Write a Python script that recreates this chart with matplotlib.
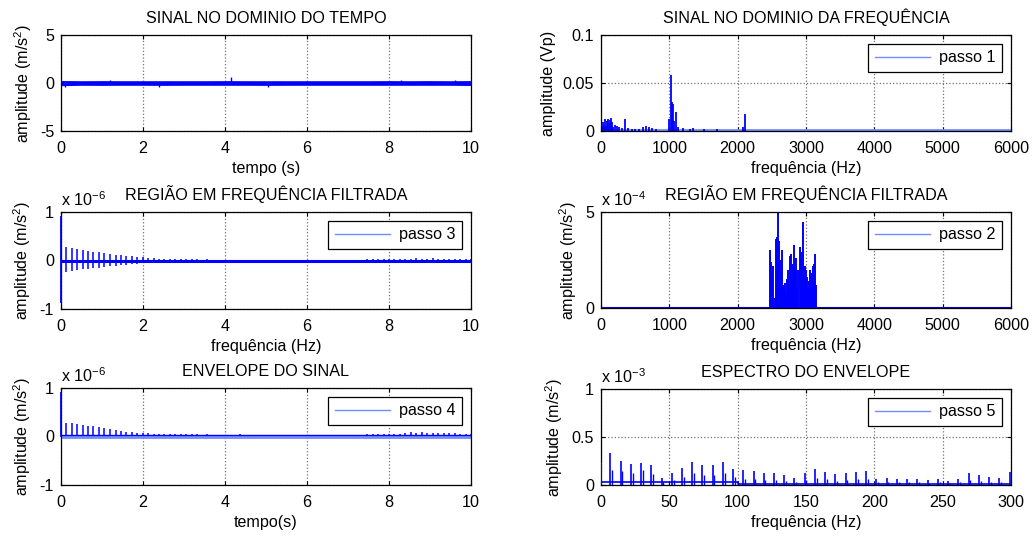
import matplotlib
matplotlib.use("Agg")
import matplotlib.pyplot as plt

plt.rcParams['font.family'] = ['Liberation Sans', 'DejaVu Sans']
plt.rcParams['font.size'] = 11.5
plt.rcParams['mathtext.fontset'] = 'custom'
plt.rcParams['mathtext.rm'] = 'Liberation Sans'
plt.rcParams['mathtext.it'] = 'Liberation Sans'
plt.rcParams['mathtext.bf'] = 'Liberation Sans'

BLUE = (0, 0, 1)
LIGHT = (0.45, 0.55, 1.0)

# ---------------- data ----------------
# 1) time signal: band envelope (m/s^2)
sinal_t = [0, 0.5, 1, 1.5, 2, 2.5, 3, 3.5, 4, 4.5, 5, 5.5, 6, 6.5, 7, 7.5, 8, 8.5, 9, 9.5, 10]
sinal_sup = [0.26, 0.24, 0.25, 0.24, 0.24, 0.24, 0.24, 0.24, 0.25, 0.24, 0.24, 0.24, 0.24, 0.24, 0.24, 0.24, 0.25, 0.24, 0.25, 0.24, 0.25]
sinal_inf = [-0.28, -0.24, -0.25, -0.24, -0.24, -0.25, -0.24, -0.24, -0.24, -0.24, -0.25, -0.24, -0.24, -0.24, -0.24, -0.24, -0.24, -0.24, -0.24, -0.24, -0.26]
sinal_pico_t = [0.1, 1.2, 2.4, 4.15, 5.05, 8.3, 9.6]
sinal_pico_v = [-0.4, 0.35, -0.38, 0.6, -0.45, 0.3, 0.3]

# 2) spectrum (Vp)
esp_f = [10, 25, 40, 55, 70, 85, 100, 115, 130, 145, 160, 180, 200, 230, 260, 300, 350, 400, 450, 500,
         560, 620, 660, 700, 740, 800, 1000, 1030, 1045, 1060, 1075, 1100, 1130, 1200, 1300, 1350,
         1500, 1700, 2080, 2110]
esp_a = [0.004, 0.009, 0.006, 0.012, 0.005, 0.010, 0.013, 0.008, 0.011, 0.014, 0.009, 0.004, 0.006, 0.005,
         0.004, 0.003, 0.013, 0.003, 0.002, 0.002, 0.002, 0.004, 0.005, 0.004, 0.003, 0.002, 0.012, 0.058,
         0.030, 0.028, 0.010, 0.020, 0.004, 0.003, 0.002, 0.003, 0.002, 0.002, 0.004, 0.018]
esp_base_f = [0, 6000]
esp_base_a = [0.001, 0.001]

# 3) filtered region, time (x 1e-6 m/s^2)
p3_t = [0.13, 0.26, 0.39, 0.53, 0.66, 0.79, 0.93, 1.06, 1.19, 1.33, 1.46, 1.59, 1.73, 1.86, 1.99, 2.12,
        2.26, 2.39, 2.52, 2.66, 2.79, 2.92, 3.06, 3.19, 3.32, 3.55, 4.37, 7.47, 7.6, 7.73, 7.87, 8.0, 8.13,
        8.27, 8.4, 8.53, 8.67, 8.8, 8.93, 9.07, 9.2, 9.33, 9.47, 9.6, 9.73, 9.87, 10.0]
p3_sup = [0.28, 0.26, 0.23, 0.21, 0.20, 0.18, 0.17, 0.15, 0.13, 0.12, 0.11, 0.10, 0.09, 0.08, 0.07, 0.06,
          0.05, 0.04, 0.04, 0.035, 0.03, 0.03, 0.03, 0.03, 0.03, 0.03, 0.02, 0.03, 0.03, 0.035, 0.035, 0.04,
          0.035, 0.04, 0.04, 0.04, 0.045, 0.04, 0.04, 0.045, 0.04, 0.04, 0.035, 0.04, 0.035, 0.03, 0.03]
p3_inf = [-0.24, -0.22, -0.20, -0.18, -0.17, -0.16, -0.15, -0.13, -0.12, -0.11, -0.10, -0.09, -0.08, -0.07,
          -0.06, -0.05, -0.05, -0.04, -0.04, -0.035, -0.03, -0.03, -0.03, -0.03, -0.03, -0.03, -0.02, -0.03,
          -0.03, -0.035, -0.035, -0.04, -0.035, -0.04, -0.04, -0.04, -0.045, -0.04, -0.04, -0.045, -0.04,
          -0.04, -0.035, -0.04, -0.035, -0.03, -0.03]
p3_inicio = [-0.88, 0.92]

# 4) filtered region, frequency (x 1e-4 m/s^2)
p2_f = [2475, 2490, 2505, 2520, 2540, 2555, 2570, 2590, 2600, 2615, 2630, 2645, 2660, 2675, 2690, 2705,
        2720, 2740, 2755, 2770, 2785, 2800, 2815, 2830, 2845, 2860, 2875, 2890, 2905, 2920, 2935, 2950,
        2965, 2980, 2995, 3010, 3025, 3040, 3055, 3070, 3085, 3100, 3115, 3130, 3145]
p2_a = [3.0, 2.4, 1.5, 2.2, 0.5, 3.6, 3.7, 5.0, 3.5, 2.5, 1.8, 3.0, 1.2, 1.0, 1.3, 0.8, 1.5, 2.0, 1.2, 2.7,
        2.8, 1.5, 2.3, 3.3, 2.0, 2.6, 1.0, 2.0, 3.2, 2.5, 2.9, 4.5, 1.8, 2.2, 2.0, 1.6, 1.0, 1.4, 2.0, 1.1,
        1.8, 2.2, 2.3, 2.8, 1.2]

# 5) envelope (x 1e-6 m/s^2)
p4_t = p3_t
p4_a = [0.27, 0.27, 0.25, 0.23, 0.22, 0.21, 0.19, 0.17, 0.15, 0.14, 0.12, 0.10, 0.09, 0.08, 0.07, 0.065,
        0.06, 0.05, 0.05, 0.05, 0.05, 0.05, 0.05, 0.05, 0.05, 0.05, 0.05, 0.05, 0.05, 0.05, 0.05, 0.06,
        0.06, 0.06, 0.07, 0.09, 0.08, 0.09, 0.08, 0.08, 0.07, 0.07, 0.07, 0.07, 0.06, 0.06, 0.06]
p4_inicio = 0.92
p4_base = 0.035

# 6) envelope spectrum (x 1e-3 m/s^2)
p5_f = [6.6, 14.4, 22.0, 29.3, 36.6, 44.4, 52.0, 59.3, 66.6, 74.0, 81.7, 89.3, 96.6, 104.0, 111.7, 119.0,
        126.6, 134.0, 141.5, 149.0, 156.6, 164.0, 171.5, 179.0, 186.6, 194.0, 201.5, 209.0, 216.6, 224.0,
        231.5, 239.0, 246.6, 254.0, 261.5, 269.0, 276.6, 284.0, 291.5, 299.0]
p5_a = [0.33, 0.25, 0.22, 0.23, 0.21, 0.07, 0.12, 0.18, 0.24, 0.21, 0.21, 0.24, 0.17, 0.16, 0.15, 0.13,
        0.12, 0.10, 0.07, 0.13, 0.17, 0.14, 0.11, 0.13, 0.14, 0.15, 0.06, 0.07, 0.06, 0.06, 0.06, 0.05,
        0.06, 0.04, 0.06, 0.13, 0.10, 0.08, 0.07, 0.14]
p5_seg = [0.16, 0.15, 0.12, 0.16, 0.11, 0.03, 0.05, 0.08, 0.12, 0.10, 0.10, 0.12, 0.08, 0.06, 0.06, 0.05,
          0.05, 0.04, 0.03, 0.05, 0.07, 0.06, 0.04, 0.05, 0.06, 0.06, 0.03, 0.03, 0.03, 0.03, 0.03, 0.02,
          0.03, 0.02, 0.03, 0.05, 0.04, 0.03, 0.03, 0.05]
p5_inicio = 0.24
p5_base_f = [0, 100, 100, 300]
p5_base_a = [0.03, 0.03, 0.015, 0.015]

# ---------------- figure ----------------
fig = plt.figure(figsize=(10.35, 5.36), dpi=100)
W, H = 1035.0, 536.0
FS = 11.6


def make_ax(x0, y0, x1, y1):
    return fig.add_axes([x0 / W, 1 - y1 / H, (x1 - x0) / W, (y1 - y0) / H])


def style(ax, xlim, xticks, ylim, yticks, yticklabels, title, xlabel, ylabel):
    ax.set_xlim(*xlim)
    ax.set_xticks(xticks)
    ax.set_ylim(*ylim)
    ax.set_yticks(yticks)
    ax.set_yticklabels(yticklabels)
    ax.set_title(title, fontsize=FS, pad=8.5)
    ax.set_xlabel(xlabel, fontsize=FS, labelpad=3.5)
    ax.set_ylabel(ylabel, fontsize=FS, labelpad=4.5)
    ax.grid(True, color=(0.45, 0.45, 0.45), linestyle=':', linewidth=0.9)
    ax.tick_params(direction='in', top=True, right=True, length=3, labelsize=FS)
    ax.tick_params(axis='x', pad=7.5)
    ax.tick_params(axis='y', pad=5)
    for s in ax.spines.values():
        s.set_linewidth(0.9)
        s.set_color('black')
    ax.set_axisbelow(True)


def legend(ax, lab):
    h, = ax.plot([], [], color=LIGHT, lw=1, label=lab)
    lg = ax.legend(handles=[h], loc='upper right', fancybox=False, framealpha=1,
                   edgecolor='black', fontsize=FS, handlelength=3.4,
                   borderaxespad=0.55, borderpad=0.4, handletextpad=0.6)
    lg.get_frame().set_linewidth(0.9)


def expo(ax, txt):
    ax.text(0.0, 1.03, txt, transform=ax.transAxes, fontsize=FS, ha='left', va='bottom')


ylab = r'amplitude (m/s$^2$)'

# 1
ax1 = make_ax(61, 35, 471, 131)
ax1.fill_between(sinal_t, sinal_inf, sinal_sup, color=BLUE, lw=0)
ax1.vlines(sinal_pico_t, [0] * len(sinal_pico_t), sinal_pico_v, color=BLUE, lw=1)
style(ax1, (0, 10), [0, 2, 4, 6, 8, 10], (-5, 5), [-5, 0, 5], ['-5', '0', '5'],
      'SINAL NO DOMINIO DO TEMPO', 'tempo (s)', ylab)

# 2
ax2 = make_ax(601, 35, 1011, 131)
ax2.plot(esp_base_f, esp_base_a, color=LIGHT, lw=2)
ax2.vlines(esp_f, [0] * len(esp_f), esp_a, color=BLUE, lw=1.3)
style(ax2, (0, 6000), [0, 1000, 2000, 3000, 4000, 5000, 6000], (0, 0.1), [0, 0.05, 0.1],
      ['0', '0.05', '0.1'], 'SINAL NO DOMINIO DA FREQUÊNCIA', 'frequência (Hz)', 'amplitude (Vp)')
legend(ax2, 'passo 1')

# 3
ax3 = make_ax(61, 212, 471, 309)
ax3.plot([0, 10], [0, 0], color=BLUE, lw=2.2)
ax3.vlines(p3_t, p3_inf, p3_sup, color=BLUE, lw=1.1)
ax3.vlines([0.0], [p3_inicio[0]], [p3_inicio[1]], color=BLUE, lw=1.3, zorder=3, clip_on=False)
style(ax3, (0, 10), [0, 2, 4, 6, 8, 10], (-1, 1), [-1, 0, 1], ['-1', '0', '1'],
      'REGIÃO EM FREQUÊNCIA FILTRADA', 'frequência (Hz)', ylab)
legend(ax3, 'passo 3')
expo(ax3, r'x 10$^{-6}$')

# 4
ax4 = make_ax(601, 212, 1011, 308)
ax4.plot([0, 6000], [0, 0], color=BLUE, lw=1.5)
ax4.vlines(p2_f, [0] * len(p2_f), p2_a, color=BLUE, lw=1.4)
style(ax4, (0, 6000), [0, 1000, 2000, 3000, 4000, 5000, 6000], (0, 5), [0, 5], ['0', '5'],
      'REGIÃO EM FREQUÊNCIA FILTRADA', 'frequência (Hz)', ylab)
legend(ax4, 'passo 2')
expo(ax4, r'x 10$^{-4}$')

# 5
ax5 = make_ax(61, 388, 471, 485)
ax5.plot([0, 10], [0.0, 0.0], color=LIGHT, lw=2)
ax5.plot([0, 10], [p4_base, p4_base], color=BLUE, lw=1)
ax5.vlines(p4_t, [p4_base] * len(p4_t), p4_a, color=BLUE, lw=1.1)
ax5.vlines([0.0], [0.0], [p4_inicio], color=BLUE, lw=1.3, zorder=3, clip_on=False)
style(ax5, (0, 10), [0, 2, 4, 6, 8, 10], (-1, 1), [-1, 0, 1], ['-1', '0', '1'],
      'ENVELOPE DO SINAL', 'tempo(s)', ylab)
legend(ax5, 'passo 4')
expo(ax5, r'x 10$^{-6}$')

# 6
ax6 = make_ax(601, 389, 1011, 485)
ax6.plot(p5_base_f, p5_base_a, color=BLUE, lw=1.2)
ax6.vlines(p5_f, [0] * len(p5_f), p5_a, color=BLUE, lw=1.2)
ax6.vlines([f + 1.2 for f in p5_f], [0] * len(p5_f), p5_seg, color=BLUE, lw=1)
ax6.vlines([0.3], [0], [p5_inicio], color=BLUE, lw=1.3, zorder=3)
style(ax6, (0, 300), [0, 50, 100, 150, 200, 250, 300], (0, 1), [0, 0.5, 1], ['0', '0.5', '1'],
      'ESPECTRO DO ENVELOPE', 'frequência (Hz)', ylab)
legend(ax6, 'passo 5')
expo(ax6, r'x 10$^{-3}$')

fig.savefig('out.png', dpi=100, facecolor='white')
